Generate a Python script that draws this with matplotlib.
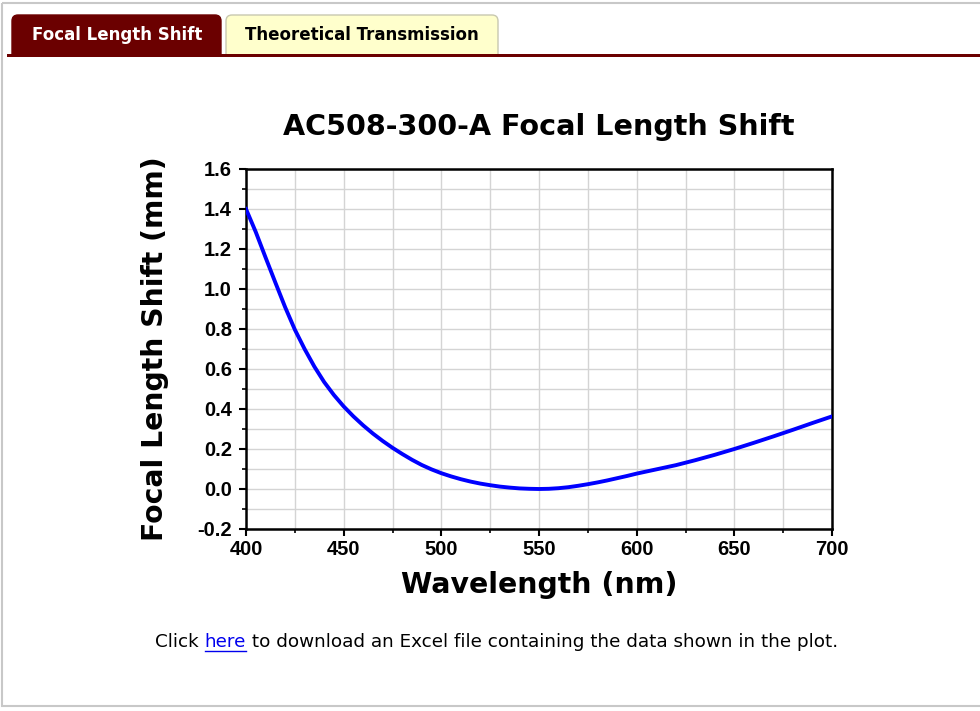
# AC508-300-A 焦距偏移曲线（仿网页截图）
import matplotlib.pyplot as plt
from matplotlib.patches import FancyBboxPatch, Rectangle
from matplotlib.ticker import MultipleLocator

wavelength = [400, 405, 410, 415, 420, 425, 430, 435, 440, 445, 450,
              455, 460, 465, 470, 475, 480, 485, 490, 495, 500,
              505, 510, 515, 520, 525, 530, 535, 540, 545, 550,
              555, 560, 565, 570, 575, 580, 585, 590, 595, 600,
              610, 620, 630, 640, 650, 660, 670, 680, 690, 700]
shift_mm = [1.400, 1.285, 1.158, 1.033, 0.910, 0.797, 0.700, 0.612, 0.535, 0.470, 0.413,
            0.363, 0.318, 0.277, 0.240, 0.206, 0.175, 0.146, 0.120, 0.098, 0.079,
            0.063, 0.049, 0.037, 0.027, 0.019, 0.012, 0.007, 0.003, 0.001, 0.000,
            0.001, 0.004, 0.009, 0.016, 0.024, 0.033, 0.043, 0.054, 0.065, 0.077,
            0.098, 0.119, 0.144, 0.171, 0.200, 0.231, 0.263, 0.296, 0.330, 0.363]

tab_labels = ['Focal Length Shift', 'Theoretical Transmission']
title = 'AC508-300-A Focal Length Shift'

W, H = 980, 711
fig = plt.figure(figsize=(W / 100, H / 100), dpi=100)
fig.patch.set_facecolor('white')

# 背景层：边框和标签页，像素坐标
bg = fig.add_axes([0, 0, 1, 1], zorder=0)
bg.set_xlim(0, W)
bg.set_ylim(H, 0)
bg.axis('off')
bg.add_patch(Rectangle((2, 3), W + 5, 703, fill=False, ec='#c8c8c8', lw=1.5))
bg.add_patch(FancyBboxPatch((12, 15), 209, 45, boxstyle='round,pad=0,rounding_size=6',
                            fc='#6b0000', ec='#6b0000', lw=1))
bg.add_patch(FancyBboxPatch((226, 15), 272, 45, boxstyle='round,pad=0,rounding_size=6',
                            fc='#ffffcc', ec='#c8c8b0', lw=1))
bg.add_patch(Rectangle((7, 57), W, 40, fc='white', ec='none'))
bg.add_patch(Rectangle((7, 53.5), W, 3.5, fc='#6b0000', ec='none'))
bg.text(117, 35, tab_labels[0], color='white', fontsize=12, fontweight='bold',
        family='DejaVu Sans', ha='center', va='center')
bg.text(362, 35, tab_labels[1], color='black', fontsize=12, fontweight='bold',
        family='DejaVu Sans', ha='center', va='center')

# 底部说明文字
parts = [('Click ', 'black', False), ('here', '#0000ee', True),
         (' to download an Excel file containing the data shown in the plot.', 'black', False)]
fig.canvas.draw()
r = fig.canvas.get_renderer()
x0 = 155
for s, c, ul in parts:
    t = bg.text(x0, 642, s, color=c, fontsize=13.2, family='DejaVu Sans',
                ha='left', va='center')
    bb = t.get_window_extent(renderer=r)
    if ul:
        bg.plot([x0, x0 + bb.width], [651, 651], color=c, lw=1)
    x0 += bb.width

# 主图
ax = fig.add_axes([246 / W, 1 - 529 / H, 586 / W, 360 / H], zorder=1)
ax.plot(wavelength, shift_mm, color='#0000ff', lw=2.8, zorder=3)
ax.set_xlim(400, 700)
ax.set_ylim(-0.2, 1.6)
ax.xaxis.set_major_locator(MultipleLocator(50))
ax.xaxis.set_minor_locator(MultipleLocator(25))
ax.yaxis.set_major_locator(MultipleLocator(0.2))
ax.yaxis.set_minor_locator(MultipleLocator(0.1))
ax.grid(which='both', color='#d4d4d4', lw=1)
ax.set_axisbelow(True)
for sp in ax.spines.values():
    sp.set_linewidth(1.8)
ax.tick_params(which='major', direction='out', length=5, width=1.5, labelsize=14.5, pad=3)
ax.tick_params(axis='y', which='major', pad=5)
ax.tick_params(which='minor', direction='out', length=3, width=1.2)
ax.set_yticks([-0.2, 0.0, 0.2, 0.4, 0.6, 0.8, 1.0, 1.2, 1.4, 1.6])
ax.set_yticklabels(['-0.2', '0.0', '0.2', '0.4', '0.6', '0.8', '1.0', '1.2', '1.4', '1.6'])
for lab in ax.get_xticklabels() + ax.get_yticklabels():
    lab.set_fontweight('bold')
    lab.set_family('Liberation Sans')

ax.text(0.5, (529 - 135) / 360, title, transform=ax.transAxes, fontsize=20.6,
        fontweight='bold', family='DejaVu Sans', ha='center', va='baseline')
ax.set_xlabel('Wavelength (nm)', fontsize=20.4, fontweight='bold', family='DejaVu Sans',
              va='center')
ax.xaxis.set_label_coords(0.5, (529 - 585) / 360)
ax.set_ylabel('Focal Length Shift (mm)', fontsize=20.3, fontweight='bold', family='DejaVu Sans',
              va='center')
ax.yaxis.set_label_coords((155 - 246) / 586, 0.5)

plt.savefig('out.png', dpi=100)
